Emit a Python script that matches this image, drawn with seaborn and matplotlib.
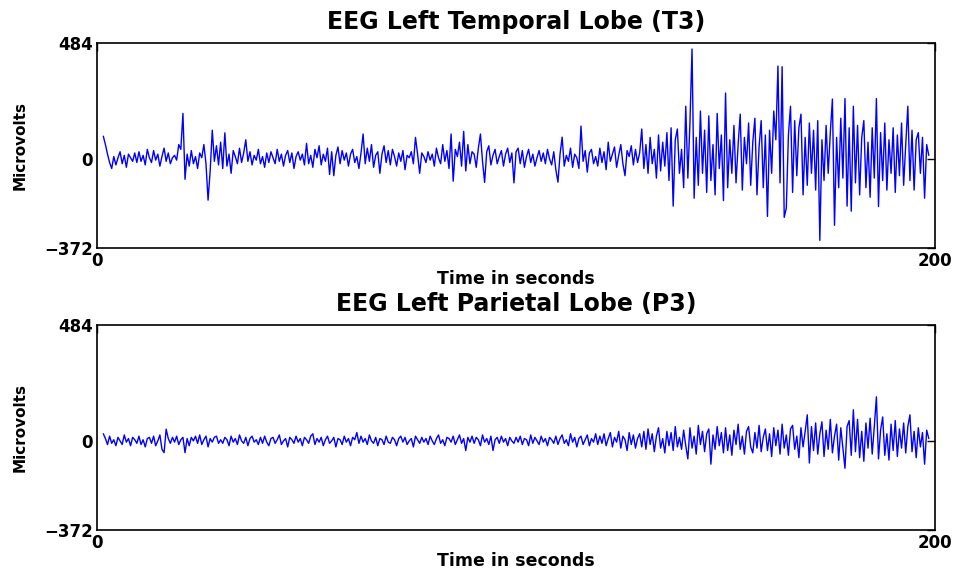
import numpy as np
import seaborn as sns
import matplotlib
matplotlib.use("Agg")
import matplotlib.pyplot as plt

# EEG traces, one value every 0.5 s starting at 1.5 s
t3_uv = [
    95, 60, 20, -15, -40, 10, -25, 5, 30, -20, 15, -35, 20, 5, -10, 25, -15,
    30, -10, 15, -25, 40, 5, -15, 35, -5, 20, -30, 10, 45, -10, 25, -20, 5, 15, -5, 60,
    40, 190, -85, 20, -30, 35, -20, 10, -40, 25, 5, 60, -20, -172, -50, 120, -10, 55, -25, 70,
    -40, 109, -30, 20, -60, 35, 10, -20, 45, -15, 25, 80, -10, 30, -25, 15, -5, 40, -20, 10,
    -35, 25, -15, 30, 5, -20, 40, -10, 20, -30, 15, 35, -15, 25, -40, 10, 30, -5, 20, -25,
    65, -20, 15, -35, 40, 5, 55, -25, 20, -10, 45, -65, 30, -70, 15, 50, -20, 35, -5, 25,
    -30, 20, 40, -15, 10, -40, 25, 104, -20, 45, -10, 60, -35, 15, 30, -60, 20, 55, -15, 35,
    -25, 40, 10, -30, 25, -10, 35, -45, 15, 5, 30, -20, 90, 20, -60, 25, 10, -15, 30, -5,
    20, -30, 45, 5, -20, 60, -10, 35, -40, 104, -93, 40, 10, 70, -30, 115, -50, 60, -20, 30,
    20, -35, 45, 104, -10, -98, 30, 55, -25, 15, 40, -20, 10, 35, -30, 20, 45, -15, 25, -100,
    30, 45, -20, 35, -35, 10, 40, -15, 20, -30, 5, 35, -10, 25, -20, 40, 0, -25, 30, -45,
    -97, 20, 91, -30, 15, -10, 45, -35, 20, 5, -40, 137, -10, 35, -55, 25, 40, -20, 10, -30,
    45, -15, 30, -45, 70, -10, 20, 50, -35, 15, 60, -20, -70, 35, 10, 55, -25, 40, -15, 25,
    125, -40, 60, -60, 90, -20, 40, -80, 100, -50, 70, -30, 110, -90, 130, -197, 80, 125, -60, 40,
    -120, 220, -80, 150, 459, -164, 90, -110, 200, -60, 120, -140, 180, -90, 60, -150, 190, -40, 100, -174,
    275, -120, 80, -60, 140, -100, 60, 187, -130, 90, -20, 150, -110, 70, 170, -150, 50, 160, -120, 100,
    -240, 120, -60, 200, 80, 388, -100, 385, -244, -205, 100, 220, -140, 160, -70, 130, 187, -150, 90, -110,
    150, -60, 120, -130, 160, -340, 80, -90, 140, -60, 110, 250, -277, 90, -120, 170, -80, 252, -197, 130,
    -218, 220, -100, 140, -150, 90, 160, -120, 70, -160, 130, -80, 252, -199, 110, -90, 150, -130, 80, -60,
    130, -140, 100, -70, 150, -110, 60, 220, -90, 120, -130, 80, 110, -60, 90, -164, 60, 15,
]

p3_uv = [
    30, 10, -15, 20, -10, 5, -20, 15, 0, -15, 25, -5, 10, -20, 15, 5, -10,
    20, -15, 5, -25, 10, 15, -10, 20, -20, 0, 25, -35, -49, 49, 10, -10, 15, -5, 20, -15,
    5, 15, -49, 10, -20, 15, 0, 20, -10, 25, -15, 5, 20, -25, 10, -5, 15, 20, -10, 5,
    -10, 15, 5, -20, 20, -5, 10, -15, 25, 0, -10, 15, -20, 10, 20, -5, 5, -15, 15, -10,
    20, -5, -20, 10, 15, -10, 5, 25, -15, 0, 10, -25, 15, 5, -10, 20, -5, 10, -20, 15,
    5, -10, 20, 30, -15, 10, -5, 15, -20, 5, 20, -10, 0, 15, -25, 10, 5, -15, 20, -5,
    10, -20, 15, 5, 35, -10, 20, -5, 10, -15, 25, 0, -10, 15, -20, 10, 5, -15, 20, -5,
    -10, 15, 5, -20, 10, 20, -5, 15, -15, 0, 10, -25, 20, 5, -10, 15, -5, 10, -15, 20,
    0, -15, 10, 25, -10, 5, -20, 15, 10, -5, 20, -15, 5, 25, -10, 10, -40, 15, -5, 20,
    -10, 15, 5, -20, 25, -5, 10, -15, 20, -40, 5, 15, -10, 20, -5, 10, -20, 15, 0, -10,
    15, -5, 20, -15, 10, 5, -20, 25, -10, 15, 0, -15, 20, -5, 10, -20, 15, 5, -10, 20,
    -15, 10, 25, -10, 5, -20, 30, -5, 15, -25, 10, 20, -15, 5, 25, -20, 10, -5, 30, -15,
    20, -10, 30, -20, 10, 35, -25, 15, -5, 40, -30, 20, 5, -40, 35, -15, 25, -30, 10, 30,
    -25, 40, -35, 50, -15, 30, -45, 20, 55, -30, 10, -50, 40, -20, 35, -40, 60, -25, 15, -35,
    45, -20, -75, 55, -30, 20, -55, 65, -15, 40, -45, 30, 50, -97, 25, -35, 60, -20, 35, -50,
    55, -40, 25, -60, 45, -15, 70, -35, 20, -55, 40, 60, -25, -50, 35, -30, 65, -45, 15, 50,
    -40, 30, -65, 55, -20, 45, -55, 70, -30, 25, -60, 50, 65, -35, 20, -70, 55, -25, 40, 109,
    -92, 60, -40, 75, -55, 30, 80, -65, 45, -35, 90, -50, 20, 70, -80, 55, -30, -114, 60, 85,
    -60, 130, -45, 90, -70, 40, -85, 75, -30, 95, -55, 60, 184, -75, 45, 100, -60, 30, -80, 70,
    -40, 85, -65, 50, -30, 75, -50, 60, 109, -45, 40, -70, 55, -25, 35, -97, 45, 10,
]

titles = ["EEG Left Temporal Lobe (T3)", "EEG Left Parietal Lobe (P3)"]
y_ticks = [-372, 0, 484]
x_ticks = [0, 200]

sns.set_style("white")
plt.rcParams["font.family"] = ["DejaVu Sans"]
plt.rcParams["font.weight"] = "bold"
plt.rcParams["text.color"] = "black"
plt.rcParams["axes.labelcolor"] = "black"

fig = plt.figure(figsize=(9.56, 5.69), dpi=100)
ax_top = fig.add_axes([0.1015, 0.5641, 0.8766, 0.3603])
ax_bot = fig.add_axes([0.1015, 0.0685, 0.8766, 0.3603])

for ax, vals, title in zip([ax_top, ax_bot], [t3_uv, p3_uv], titles):
    t = 1.5 + 0.5 * np.arange(len(vals))
    sns.lineplot(x=t, y=vals, ax=ax, color="#0000ff", linewidth=1.0)
    ax.set_xlim(0, 200)
    ax.set_ylim(-372, 484)
    ax.set_xticks(x_ticks)
    ax.set_yticks(y_ticks)
    ax.tick_params(direction="in", length=6, width=1, top=True, right=True,
                   labelsize=12, pad=3, colors="black")
    for lbl in ax.get_xticklabels() + ax.get_yticklabels():
        lbl.set_fontweight("bold")
    for s in ax.spines.values():
        s.set_color("black")
        s.set_linewidth(1.2)
    ax.set_title(title, fontsize=17, fontweight="bold", pad=10, color="black")
    ax.set_xlabel("Time in seconds", fontsize=12.5, fontweight="bold", labelpad=0)
    ax.set_ylabel("Microvolts", fontsize=11, fontweight="bold", labelpad=12)

fig.savefig("out.png", dpi=100)
